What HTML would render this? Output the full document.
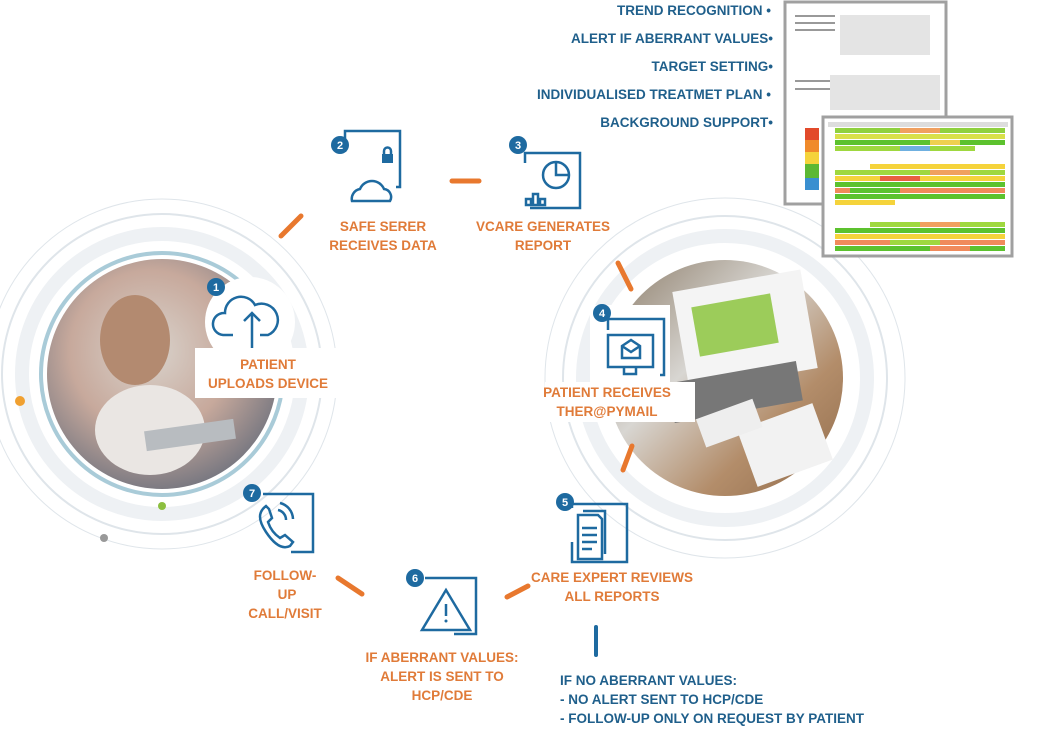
<!DOCTYPE html>
<html><head><meta charset="utf-8"><style>
html,body{margin:0;padding:0;background:#fff;width:1037px;height:736px;overflow:hidden}
svg{display:block}
svg text{font-family:"Liberation Sans",sans-serif;font-weight:700}
.o{fill:#e07b39;font-size:13.5px;text-anchor:middle}
.b{fill:#1f5f8b;font-size:13.5px}
.n{fill:#fff;font-size:11px;text-anchor:middle}
.ic{fill:none;stroke:#1e6aa0;stroke-width:2.5}
.d{stroke:#e8782e;stroke-width:5;stroke-linecap:round}
</style></head><body>
<svg width="1037" height="736" viewBox="0 0 1037 736">
<defs>
<radialGradient id="g1" cx="0.45" cy="0.4" r="0.7"><stop offset="0" stop-color="#d9d3cc"/><stop offset="0.5" stop-color="#c7a99c"/><stop offset="1" stop-color="#5f6878"/></radialGradient>
<linearGradient id="g2" x1="0" y1="0" x2="1" y2="1"><stop offset="0" stop-color="#8a7a66"/><stop offset="0.4" stop-color="#d8d6d2"/><stop offset="0.7" stop-color="#b38d6a"/><stop offset="1" stop-color="#8f6a4a"/></linearGradient>
</defs>
<g fill="none" stroke="#dfe5ea">
<circle cx="162" cy="374" r="140" stroke-width="14" stroke="#eef1f4"/>
<circle cx="162" cy="374" r="160" stroke-width="2"/>
<circle cx="162" cy="374" r="175" stroke-width="1"/>
<circle cx="725" cy="378" r="142" stroke-width="14" stroke="#eef1f4"/>
<circle cx="725" cy="378" r="162" stroke-width="2"/>
<circle cx="725" cy="378" r="180" stroke-width="1"/>
</g>
<circle cx="162" cy="374" r="121" fill="none" stroke="#a9cbd8" stroke-width="4"/>
<circle cx="162" cy="374" r="115" fill="url(#g1)"/>
<ellipse cx="135" cy="340" rx="35" ry="45" fill="#b38a70"/>
<ellipse cx="150" cy="430" rx="55" ry="45" fill="#eae6e3"/>
<rect x="145" y="425" width="90" height="20" fill="#b8bcc0" transform="rotate(-8 190 435)"/>
<circle cx="725" cy="378" r="118" fill="url(#g2)"/>
<rect x="680" y="280" width="130" height="100" fill="#f4f4f4" transform="rotate(-10 745 330)"/>
<rect x="695" y="300" width="80" height="50" fill="#9ccc5a" transform="rotate(-10 735 325)"/>
<rect x="670" y="372" width="130" height="40" fill="#777" transform="rotate(-10 735 390)"/>
<rect x="745" y="415" width="80" height="60" fill="#f2f2f2" transform="rotate(-20 785 445)"/>
<rect x="700" y="408" width="60" height="30" fill="#eee" transform="rotate(-20 730 425)"/>
<circle cx="20" cy="401" r="5" fill="#f0a030"/>
<circle cx="162" cy="506" r="4" fill="#8cbf3f"/>
<circle cx="104" cy="538" r="4" fill="#999"/>
<rect x="785" y="2" width="161" height="202" fill="#fff" stroke="#a0a0a0" stroke-width="3"/>
<g fill="#999"><rect x="795" y="15" width="40" height="2"/><rect x="795" y="22" width="40" height="2"/><rect x="795" y="29" width="40" height="2"/><rect x="795" y="80" width="40" height="2"/><rect x="795" y="88" width="40" height="2"/><rect x="840" y="15" width="90" height="40" fill="#e4e4e4"/><rect x="830" y="75" width="110" height="35" fill="#e4e4e4"/></g>
<rect x="805" y="128" width="14" height="12" fill="#e24a2b"/><rect x="805" y="140" width="14" height="12" fill="#f08a2b"/><rect x="805" y="152" width="14" height="12" fill="#f5d33b"/><rect x="805" y="164" width="14" height="14" fill="#5cb833"/><rect x="805" y="178" width="14" height="12" fill="#3a8fd0"/>
<rect x="823" y="117" width="189" height="139" fill="#fff" stroke="#a0a0a0" stroke-width="3"/>
<g>
<rect x="828" y="122" width="180" height="5" fill="#ddd"/>
<rect x="835" y="128" width="170" height="5" fill="#8fd13f"/><rect x="900" y="128" width="40" height="5" fill="#f0a060"/>
<rect x="835" y="134" width="170" height="5" fill="#d8e04a"/>
<rect x="835" y="140" width="170" height="5" fill="#5cc22e"/><rect x="930" y="140" width="30" height="5" fill="#f0d050"/>
<rect x="835" y="146" width="140" height="5" fill="#9fd83f"/><rect x="900" y="146" width="30" height="5" fill="#6fb0e0"/>
<rect x="870" y="164" width="135" height="5" fill="#f5d33b"/>
<rect x="835" y="170" width="170" height="5" fill="#9fd83f"/><rect x="930" y="170" width="40" height="5" fill="#f0a060"/>
<rect x="835" y="176" width="170" height="5" fill="#f5d33b"/><rect x="880" y="176" width="40" height="5" fill="#e86040"/>
<rect x="835" y="182" width="170" height="5" fill="#5cc22e"/>
<rect x="835" y="188" width="170" height="5" fill="#f08a5b"/><rect x="850" y="188" width="50" height="5" fill="#5cc22e"/>
<rect x="835" y="194" width="170" height="5" fill="#5cc22e"/>
<rect x="835" y="200" width="60" height="5" fill="#f5d33b"/>
<rect x="870" y="222" width="135" height="5" fill="#9fd83f"/><rect x="920" y="222" width="40" height="5" fill="#f0a060"/>
<rect x="835" y="228" width="170" height="5" fill="#5cc22e"/>
<rect x="835" y="234" width="170" height="5" fill="#f5d33b"/>
<rect x="835" y="240" width="170" height="5" fill="#f08a5b"/><rect x="890" y="240" width="50" height="5" fill="#9fd83f"/>
<rect x="835" y="246" width="170" height="5" fill="#5cc22e"/><rect x="930" y="246" width="40" height="5" fill="#f08a5b"/>
</g>
<g class="b" text-anchor="end" font-weight="bold" style="font-weight:bold">
<text x="771" y="15">TREND RECOGNITION •</text>
<text x="773" y="43">ALERT IF ABERRANT VALUES•</text>
<text x="773" y="71">TARGET SETTING•</text>
<text x="771" y="99">INDIVIDUALISED TREATMET PLAN •</text>
<text x="773" y="127">BACKGROUND SUPPORT•</text>
</g>
<line class="d" x1="281" y1="236" x2="301" y2="216"/>
<line class="d" x1="452" y1="181" x2="479" y2="181"/>
<line class="d" x1="618" y1="263" x2="631" y2="289"/>
<line class="d" x1="632" y1="446" x2="623" y2="470"/>
<line class="d" x1="507" y1="597" x2="528" y2="586"/>
<line class="d" x1="338" y1="578" x2="362" y2="594"/>
<line x1="596" y1="627" x2="596" y2="655" stroke="#1e6aa0" stroke-width="4" stroke-linecap="round"/>
<circle cx="250" cy="322" r="45" fill="#fff"/>
<rect x="195" y="348" width="150" height="50" fill="#fff"/>
<path class="ic" stroke-width="3" d="M233 335 h-10 a11 11 0 0 1 2 -22 a16 16 0 0 1 30 -8 a13 13 0 0 1 13 30 h-8"/>
<path class="ic" stroke-width="3" d="M252 348 v-35 M244 321 l8 -8 8 8"/>
<circle cx="216" cy="287" r="9" fill="#1e6aa0"/><text class="n" x="216" y="291">1</text>
<g font-weight="bold" style="font-weight:bold">
<text class="o" x="268" y="369">PATIENT</text>
<text class="o" x="268" y="388">UPLOADS DEVICE</text>
</g>
<path class="ic" d="M345 152 v-21 h55 v56 h-4"/>
<path class="ic" d="M352 201 a10 10 0 0 1 8 -12 a13 13 0 0 1 24 0 a8 8 0 0 1 6 12 z"/>
<rect x="382" y="154" width="11" height="9" fill="#1e6aa0"/><path d="M384 155 v-4 a3.5 3.5 0 0 1 7 0 v4" class="ic" stroke-width="1.8"/>
<circle cx="340" cy="145" r="9" fill="#1e6aa0"/><text class="n" x="340" y="149">2</text>
<path class="ic" d="M525 163 v-10 h55 v55 h-50"/>
<circle cx="556" cy="175" r="13" class="ic"/><path class="ic" d="M556 162 v13 h13"/>
<path class="ic" stroke-width="1.8" d="M526 199 h5 v6 h-5z M533 194 h5 v11 h-5z M540 199 h5 v6 h-5z"/>
<circle cx="518" cy="145" r="9" fill="#1e6aa0"/><text class="n" x="518" y="149">3</text>
<path d="M590 305 h80 v78 h-80z" fill="#fff"/>
<rect x="545" y="382" width="150" height="40" fill="#fff"/>
<path class="ic" d="M608 330 v-11 h56 v56 h-4"/>
<rect x="608" y="335" width="45" height="32" class="ic"/>
<path class="ic" d="M624 367 v7 h12 v-7"/>
<path class="ic" stroke-width="1.6" d="M622 346 l9 -6 9 6 v12 h-18z l9 6 9 -6"/>
<circle cx="602" cy="313" r="9" fill="#1e6aa0"/><text class="n" x="602" y="317">4</text>
<path class="ic" d="M572 508 v-4 h55 v58 h-55 v-20"/>
<path class="ic" d="M578 515 h20 l4 4 v40 h-24z M583 511 h22 v43"/>
<path class="ic" stroke-width="1.5" d="M582 528 h15 M582 535 h15 M582 542 h15 M582 549 h10"/>
<circle cx="565" cy="502" r="9" fill="#1e6aa0"/><text class="n" x="565" y="506">5</text>
<path class="ic" d="M425 578 h51 v56 h-22"/>
<path class="ic" d="M446 590 l-24 40 h48 z"/>
<path d="M446 604 v12" stroke="#1e6aa0" stroke-width="2.5"/><circle cx="446" cy="621" r="1.5" fill="#1e6aa0"/>
<circle cx="415" cy="578" r="9" fill="#1e6aa0"/><text class="n" x="415" y="582">6</text>
<path class="ic" d="M263 494 h50 v58 h-22"/>
<path class="ic" d="M266 506 c-8 6 -8 14 0 26 c8 12 16 18 24 14 l3 -4 -8 -7 -5 3 c-6 -4 -10 -10 -12 -16 l4 -4 -3 -9 z"/>
<path class="ic" stroke-width="1.8" d="M278 510 a10 10 0 0 1 8 10 M280 503 a17 17 0 0 1 13 16"/>
<circle cx="252" cy="493" r="9" fill="#1e6aa0"/><text class="n" x="252" y="497">7</text>
<g font-weight="bold" style="font-weight:bold">
<text class="o" x="383" y="231">SAFE SERER</text>
<text class="o" x="383" y="250">RECEIVES DATA</text>
<text class="o" x="543" y="231">VCARE GENERATES</text>
<text class="o" x="543" y="250">REPORT</text>
<text class="o" x="607" y="397">PATIENT RECEIVES</text>
<text class="o" x="607" y="416">THER@PYMAIL</text>
<text class="o" x="612" y="582">CARE EXPERT REVIEWS</text>
<text class="o" x="612" y="601">ALL REPORTS</text>
<text class="o" x="442" y="662">IF ABERRANT VALUES:</text>
<text class="o" x="442" y="681">ALERT IS SENT TO</text>
<text class="o" x="442" y="700">HCP/CDE</text>
<text class="o" x="285" y="580">FOLLOW-</text>
<text class="o" x="287" y="599">UP</text>
<text class="o" x="285" y="618">CALL/VISIT</text>
</g>
<g class="b" font-size="13" font-weight="bold" style="font-weight:bold">
<text x="560" y="685">IF NO ABERRANT VALUES:</text>
<text x="560" y="704">- NO ALERT SENT TO HCP/CDE</text>
<text x="560" y="723">- FOLLOW-UP ONLY ON REQUEST BY PATIENT</text>
</g>
</svg>
</body></html>
